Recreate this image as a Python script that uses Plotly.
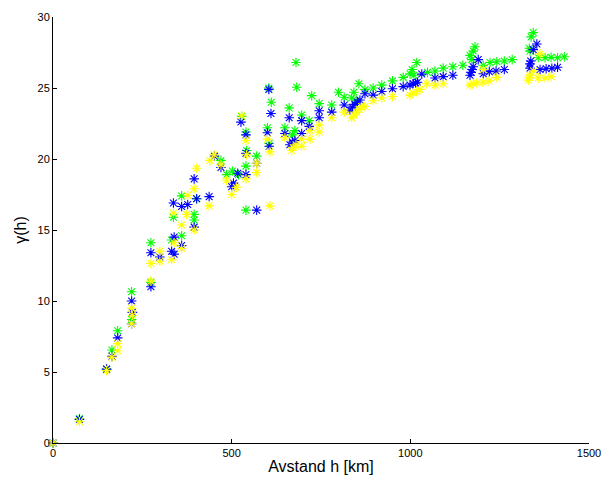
import plotly.graph_objects as go

# Green series
green_x = [0, 74, 150, 165, 181, 220, 220, 274, 274, 332, 337, 360, 360, 395, 395, 402, 470, 486, 502, 519,
           528, 540, 542, 540, 540, 570, 600, 604, 605, 611, 649, 661, 670, 677, 680, 682, 696, 717, 724, 745,
           780, 799, 815, 836, 842, 848, 856, 873, 896, 920, 950, 980, 999, 1005, 1010, 1018, 1048, 1069, 1092,
           1119, 1147, 1167, 1172, 1176, 1181, 1204, 1223, 1242, 1263, 1285, 1333, 1335, 1338, 1344, 1358, 1377,
           1394, 1412, 1431]
green_y = [0, 1.72, 5.2, 6.55, 7.9, 10.65, 8.7, 14.1, 11.3, 14.3, 15.9, 17.4, 14.6, 16.1, 15.7, 17.2, 19.9, 18.9,
           19.15, 18.9, 23.0, 21.9, 20.6, 19.5, 16.4, 20.2, 22.2, 25.0, 21.1, 24.0, 22.2, 23.6, 21.7, 22.0, 26.8,
           25.05, 23.1, 22.7, 24.46, 23.9, 23.8, 24.7, 24.35, 24.3, 24.7, 24.1, 25.3, 24.9, 25.0, 25.2, 25.5, 25.75,
           26.0, 26.3, 25.9, 26.8, 26.1, 26.2, 26.4, 26.5, 26.6, 27.3, 27.0, 27.6, 27.9, 26.6, 26.8, 26.85, 26.9,
           27.0, 27.8, 27.6, 28.6, 28.9, 27.15, 27.13, 27.16, 27.13, 27.2]

# Blue series
blue_x = [0, 74, 150, 165, 181, 220, 220, 222, 274, 274, 299, 332, 337, 339, 339, 360, 360, 377, 395, 395, 402,
          437, 452, 470, 500, 505, 517, 526, 540, 540, 540, 570, 570, 600, 604, 610, 605, 649, 661, 663, 670, 677,
          696, 696, 717, 745, 745, 780, 815, 831, 838, 845, 852, 859, 873, 896, 920, 950, 980, 999, 1008, 1015,
          1020, 1032, 1069, 1092, 1119, 1167, 1170, 1173, 1176, 1190, 1204, 1221, 1240, 1263, 1335, 1335, 1337,
          1344, 1354, 1363, 1380, 1396, 1412]
blue_y = [0, 1.65, 5.2, 6.1, 7.4, 10.0, 8.4, 9.2, 13.4, 11.0, 13.1, 13.5, 16.9, 14.5, 13.3, 16.65, 13.9, 16.8,
          18.6, 15.2, 17.2, 17.35, 20.2, 19.4, 18.05, 18.3, 19.0, 22.6, 21.7, 20.4, 18.9, 19.7, 16.4, 21.85, 24.9,
          23.2, 20.9, 21.8, 22.9, 21.0, 21.2, 21.3, 22.7, 21.8, 22.3, 23.4, 22.9, 23.3, 23.8, 23.45, 23.65, 23.85,
          24.0, 24.15, 24.6, 24.5, 24.75, 24.95, 25.1, 25.2, 25.3, 25.35, 25.4, 25.98, 25.7, 25.8, 25.9, 25.9,
          26.1, 26.3, 26.5, 27.0, 26.0, 26.15, 26.2, 26.3, 26.4, 26.7, 26.9, 27.7, 28.1, 26.3, 26.36, 26.39, 26.46]

# Yellow series
yellow_x = [0, 74, 150, 165, 181, 181, 220, 220, 222, 274, 274, 299, 299, 332, 337, 339, 360, 360, 374, 377, 395,
            395, 402, 437, 439, 451, 470, 486, 500, 513, 528, 540, 542, 540, 570, 570, 600, 607, 607, 649, 668,
            672, 680, 696, 696, 719, 719, 745, 745, 780, 815, 836, 842, 850, 857, 864, 873, 896, 920, 950, 999,
            1008, 1017, 1027, 1046, 1069, 1092, 1167, 1176, 1186, 1203, 1204, 1220, 1242, 1330, 1333, 1335, 1345,
            1358, 1363, 1377, 1394]
yellow_y = [0, 1.5, 5.1, 6.05, 6.5, 7.0, 8.4, 9.5, 9.0, 12.65, 11.4, 13.5, 12.8, 12.9, 16.2, 14.1, 15.35, 13.7,
            16.1, 17.45, 17.9, 15.0, 19.35, 16.7, 19.9, 20.3, 19.6, 18.5, 17.5, 18.0, 23.05, 21.3, 20.3, 18.6,
            19.05, 19.7, 21.4, 20.5, 16.7, 21.5, 20.6, 20.8, 21.0, 20.9, 21.4, 22.0, 21.4, 22.4, 21.9, 22.9, 23.3,
            22.9, 23.1, 23.3, 23.5, 23.7, 23.7, 24.1, 24.3, 24.4, 24.5, 24.65, 24.75, 24.9, 25.3, 25.2, 25.3, 25.2,
            25.3, 25.35, 25.4, 26.3, 25.5, 25.75, 25.55, 25.75, 25.9, 26.2, 25.7, 27.4, 25.7, 25.8]

x_ticks = [0, 500, 1000, 1500]
y_ticks = [0, 5, 10, 15, 20, 25, 30]

FONT = "Liberation Sans, Arial, sans-serif"

fig = go.Figure()
for xs, ys, col in [(green_x, green_y, "#00ff00"), (blue_x, blue_y, "#0000ff"), (yellow_x, yellow_y, "#ffff00")]:
    fig.add_trace(go.Scatter(
        x=xs, y=ys, mode="markers",
        marker=dict(symbol="asterisk-open", size=8, color=col, line=dict(color=col, width=1.1)),
        showlegend=False, cliponaxis=False,
    ))

axis_common = dict(
    showgrid=False, zeroline=False, showline=True, linecolor="black", linewidth=1,
    ticks="inside", ticklen=4, tickcolor="black", mirror=False, automargin=False,
    tickfont=dict(family=FONT, size=11, color="black"),
)
fig.update_xaxes(range=[0, 1500], tickvals=x_ticks, ticktext=[str(v) for v in x_ticks],
                 title=dict(text="Avstand h [km]", font=dict(family=FONT, size=16, color="black"), standoff=2),
                 **axis_common)
fig.update_yaxes(range=[0, 30], tickvals=y_ticks, ticktext=[str(v) for v in y_ticks],
                 title=dict(text="γ(h)", font=dict(family=FONT, size=16, color="black"), standoff=6),
                 **axis_common)
fig.update_layout(
    width=602, height=479,
    margin=dict(l=53, r=13, t=17, b=36),
    plot_bgcolor="white", paper_bgcolor="white",
)
fig.write_html("out.html")
